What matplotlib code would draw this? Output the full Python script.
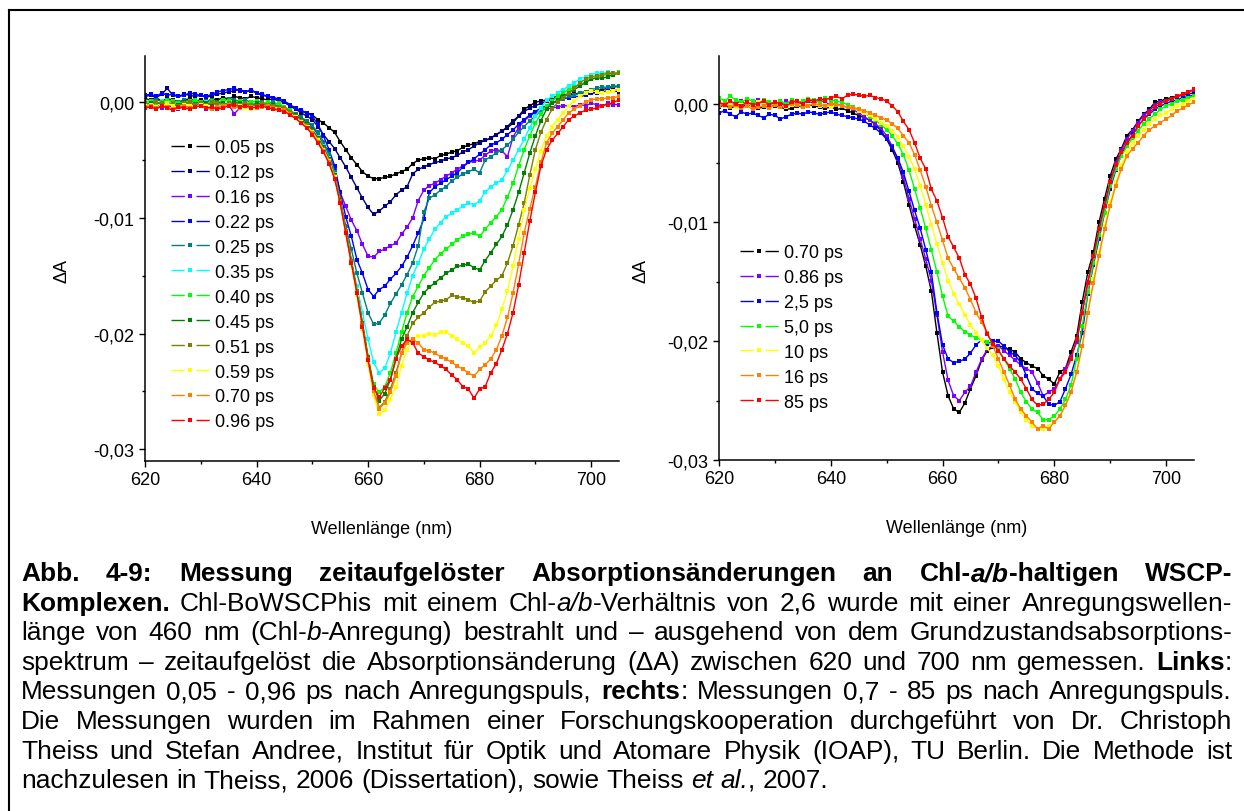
import re
import numpy as np
import matplotlib
matplotlib.use("Agg")
import matplotlib.pyplot as plt
from matplotlib.lines import Line2D
from matplotlib.ticker import FixedLocator, FuncFormatter

plt.rcParams['font.family'] = ['Liberation Sans', 'DejaVu Sans']

# wavelength grid of the spectra (nm)
wavelength = np.arange(620, 706)

# ---- left panel: delta A in units of 1e-3, 620..705 nm ----
d005 = [0.3,0.2,0.4,0.1,0.3,0.2,0.0,0.2,0.3,0.1,0.2,0.0,0.3,0.2,0.4,0.3,0.5,0.4,0.3,0.5,0.4,0.3,0.2,0.3,0.1,
        0.0,-0.3,-0.6,-0.8,-0.9,-1.1,-1.5,-1.8,-2.2,-2.6,
        -3.4,-4.1,-4.8,-5.4,-6.0,-6.4,-6.6,-6.6,-6.5,-6.4,
        -6.2,-6.0,-5.8,-5.3,-5.0,-4.9,-4.8,-4.9,-4.6,-4.5,
        -4.3,-4.2,-3.9,-3.7,-3.6,-3.4,-3.3,-3.1,-2.8,-2.5,
        -2.2,-1.8,-1.2,-0.6,-0.3,0.0,0.1,0.2,0.4,0.5,
        0.6,0.7,0.7,0.8,0.9,1.0,1.0,1.1,1.2,1.3,
        1.4]
d012 = [0.5,0.6,0.4,0.7,1.2,0.6,0.5,0.7,0.6,0.5,0.6,0.4,0.6,0.7,0.8,0.9,1.0,1.1,0.9,1.0,0.8,0.6,0.5,0.4,0.2,
        0.0,-0.3,-0.6,-0.9,-1.2,-1.5,-2.1,-2.8,-3.4,-4.0,
        -4.8,-5.6,-6.5,-7.4,-8.3,-9.1,-9.7,-9.4,-9.0,-8.6,
        -8.0,-7.6,-7.3,-6.2,-5.8,-5.6,-5.4,-5.2,-5.1,-4.9,
        -4.8,-4.6,-4.3,-4.1,-3.8,-3.5,-3.3,-3.1,-2.8,-2.5,
        -2.1,-1.6,-1.2,-0.8,-0.5,-0.3,-0.1,0.1,0.2,0.4,
        0.5,0.7,0.7,0.8,0.8,0.8,0.9,0.9,0.9,1.0,
        0.9]
d016 = [-0.3,-0.4,-0.2,-0.5,-0.3,-0.4,-0.6,-0.3,-0.5,-0.4,-0.2,-0.6,-0.4,-0.5,-0.3,-0.2,-1.0,-0.5,-0.3,-0.2,-0.1,-0.2,-0.3,-0.2,-0.4,
        -0.5,-0.8,-1.1,-1.4,-1.7,-2.1,-2.8,-3.6,-4.5,-5.8,
        -7.8,-9.0,-10.2,-11.1,-12.3,-13.3,-13.4,-12.9,-12.7,-12.4,
        -12.2,-11.4,-10.8,-10.0,-8.5,-7.6,-7.2,-7.0,-6.7,-6.4,
        -6.1,-5.8,-5.5,-5.2,-5.1,-5.0,-4.6,-4.2,-4.1,-4.2,
        -4.7,-3.0,-2.2,-1.6,-1.2,-0.9,-0.7,-0.6,-0.5,-0.4,
        -0.3,-0.3,-0.4,-0.2,-0.3,-0.1,-0.2,-0.3,-0.1,-0.2,
        -0.2]
d022 = [0.6,0.7,0.5,0.8,0.6,0.7,0.5,0.6,0.8,0.7,0.6,0.5,0.7,0.9,1.0,1.1,1.2,1.0,0.9,1.1,0.8,0.7,0.5,0.4,0.3,
        0.1,-0.2,-0.5,-0.7,-0.9,-1.2,-1.9,-2.9,-4.1,-5.5,
        -7.8,-9.9,-11.6,-13.6,-14.8,-16.2,-16.8,-16.2,-15.9,-15.3,
        -14.8,-14.2,-13.4,-12.4,-11.3,-10.1,-7.8,-7.3,-7.0,-6.7,
        -6.4,-6.1,-5.6,-5.2,-4.9,-4.5,-4.1,-3.7,-3.5,-3.2,
        -2.8,-2.4,-1.9,-1.5,-1.1,-0.8,-0.5,-0.3,-0.1,0.1,
        0.3,0.4,0.5,0.5,0.6,0.8,0.8,0.9,1.0,1.0,
        1.1]
d025 = [0.1,0.0,0.2,0.1,-0.1,0.1,0.0,0.2,0.1,0.0,-0.1,0.1,0.2,0.0,0.1,0.3,0.2,0.1,0.2,0.0,0.1,0.0,-0.1,0.0,-0.2,
        -0.4,-0.7,-1.0,-1.3,-1.6,-2.0,-2.6,-3.4,-4.5,-6.0,
        -8.4,-10.7,-12.7,-14.8,-16.5,-18.2,-19.2,-19.1,-18.4,-17.4,
        -16.6,-15.8,-14.9,-13.9,-12.4,-9.5,-8.3,-8.0,-7.6,-7.3,
        -6.8,-6.5,-6.2,-6.0,-5.8,-6.1,-5.0,-4.7,-4.4,-4.1,
        -3.7,-3.2,-2.6,-2.1,-1.6,-1.2,-0.7,-0.3,-0.1,0.1,
        0.3,0.5,0.6,0.8,0.9,1.1,1.2,1.3,1.3,1.4,
        1.4]
d035 = [-0.1,0.0,-0.2,0.1,-0.1,0.0,-0.3,-0.1,0.0,-0.2,-0.1,0.0,-0.1,-0.3,-0.2,0.0,-0.1,-0.2,-0.3,-0.1,-0.2,-0.4,-0.3,-0.2,-0.3,
        -0.5,-0.8,-1.1,-1.5,-1.9,-2.4,-3.0,-3.8,-4.8,-6.2,
        -8.6,-11.1,-13.6,-15.9,-18.2,-20.5,-22.5,-23.4,-23.0,-21.7,
        -19.9,-18.2,-16.5,-15.0,-13.9,-12.7,-11.8,-11.0,-10.4,-9.9,
        -9.6,-9.3,-9.0,-8.7,-8.9,-8.5,-7.8,-7.3,-7.0,-6.7,
        -5.9,-5.0,-4.1,-3.2,-2.2,-1.2,-0.5,0.2,0.5,0.8,
        1.1,1.4,1.7,2.0,2.2,2.4,2.5,2.5,2.6,2.5,
        2.5]
d040 = [0.0,0.1,-0.1,0.0,0.2,0.1,-0.1,0.0,0.1,0.2,0.0,-0.1,0.1,0.0,0.2,0.1,0.0,0.1,-0.1,0.0,0.1,-0.1,0.0,-0.2,-0.1,
        -0.4,-0.7,-1.1,-1.5,-1.9,-2.4,-3.1,-3.9,-4.9,-6.3,
        -8.5,-11.2,-13.8,-16.4,-19.2,-22.0,-24.4,-25.1,-24.6,-23.4,
        -21.7,-19.9,-18.2,-16.8,-15.9,-15.0,-14.3,-13.6,-13.1,-12.7,
        -12.3,-11.9,-11.6,-11.4,-11.3,-11.6,-11.0,-10.4,-9.9,-9.3,
        -8.2,-7.0,-5.5,-4.1,-2.9,-1.8,-1.0,-0.3,0.1,0.5,
        0.8,1.1,1.3,1.5,1.8,2.0,2.2,2.3,2.4,2.5,
        2.6]
d045 = [-0.2,-0.1,0.0,-0.2,-0.1,-0.3,-0.2,0.0,-0.1,-0.2,-0.3,-0.1,-0.2,0.0,-0.1,-0.2,0.0,-0.1,-0.2,-0.3,-0.1,-0.2,-0.3,-0.2,-0.4,
        -0.5,-0.8,-1.1,-1.5,-1.9,-2.4,-3.1,-3.9,-4.9,-6.3,
        -8.4,-11.1,-13.7,-16.3,-19.1,-22.0,-24.6,-25.8,-25.2,-24.0,
        -22.2,-20.5,-19.4,-18.2,-17.3,-16.5,-16.0,-15.6,-15.2,-14.8,
        -14.5,-14.2,-14.1,-14.0,-14.3,-14.5,-13.7,-13.0,-12.3,-11.6,
        -10.6,-9.3,-7.8,-6.1,-4.4,-2.9,-1.6,-0.6,-0.1,0.2,
        0.5,0.8,1.1,1.4,1.7,2.0,2.1,2.1,2.2,2.4,
        2.5]
d051 = [-0.1,-0.2,0.0,-0.1,-0.2,-0.1,-0.3,-0.1,0.0,-0.2,-0.1,-0.2,0.0,-0.1,-0.2,-0.1,-0.3,-0.2,-0.1,-0.2,-0.3,-0.1,-0.2,-0.3,-0.4,
        -0.5,-0.8,-1.2,-1.6,-2.0,-2.5,-3.2,-4.0,-5.0,-6.4,
        -8.5,-11.1,-13.7,-16.3,-19.2,-22.2,-24.9,-26.4,-25.9,-24.8,
        -23.4,-21.7,-20.2,-19.1,-18.6,-18.2,-17.7,-17.3,-17.2,-17.1,
        -16.7,-16.8,-16.9,-17.1,-17.3,-17.2,-16.4,-15.9,-15.4,-15.0,
        -13.9,-12.4,-10.6,-8.7,-6.3,-4.1,-2.6,-1.5,-0.6,0.0,
        0.4,0.8,1.2,1.7,2.0,2.2,2.3,2.4,2.5,2.5,
        2.5]
d059 = [-0.3,-0.2,-0.4,-0.3,-0.1,-0.3,-0.5,-0.2,-0.3,-0.4,-0.2,-0.3,-0.5,-0.4,-0.3,-0.2,-0.4,-0.3,-0.5,-0.6,-0.4,-0.3,-0.4,-0.5,-0.6,
        -0.7,-1.0,-1.3,-1.7,-2.1,-2.6,-3.3,-4.1,-5.1,-6.5,
        -8.7,-11.3,-14.0,-16.7,-19.6,-22.6,-25.3,-27.0,-26.6,-25.7,
        -24.6,-22.8,-21.4,-20.5,-20.2,-20.2,-20.0,-20.1,-19.9,-19.9,
        -20.2,-20.5,-20.8,-21.1,-21.7,-21.2,-20.8,-20.2,-19.3,-17.9,
        -16.3,-14.2,-11.8,-9.3,-7.4,-5.8,-4.2,-2.9,-2.1,-1.5,
        -0.9,-0.3,0.1,0.5,0.8,1.0,0.9,0.8,0.9,1.0,
        1.1]
d070 = [-0.4,-0.3,-0.5,-0.3,-0.4,-0.6,-0.4,-0.3,-0.5,-0.4,-0.3,-0.5,-0.6,-0.4,-0.3,-0.2,-0.4,-0.5,-0.3,-0.4,-0.5,-0.4,-0.3,-0.5,-0.6,
        -0.7,-1.0,-1.4,-1.8,-2.2,-2.7,-3.4,-4.2,-5.2,-6.6,
        -8.7,-11.3,-13.9,-16.5,-19.4,-22.3,-25.0,-26.5,-26.0,-25.1,
        -23.7,-21.7,-20.8,-20.5,-20.8,-21.4,-21.5,-21.7,-22.0,-22.2,
        -22.5,-22.8,-23.1,-23.4,-23.7,-23.1,-22.7,-22.2,-21.4,-20.2,
        -18.6,-16.5,-14.0,-11.3,-9.2,-7.3,-5.2,-3.5,-2.7,-2.1,
        -1.5,-0.9,-0.6,-0.3,0.0,0.2,0.3,0.3,0.4,0.4,
        0.5]
d096 = [-0.5,-0.4,-0.6,-0.3,-0.5,-0.7,-0.4,-0.5,-0.6,-0.4,-0.3,-0.5,-0.4,-0.6,-0.5,-0.3,-0.2,-0.4,-0.3,-0.5,-0.4,-0.3,-0.5,-0.6,-0.7,
        -0.8,-1.1,-1.4,-1.8,-2.2,-2.8,-3.5,-4.3,-5.3,-6.6,
        -8.7,-11.3,-13.9,-16.5,-19.4,-22.3,-24.7,-25.5,-24.7,-24.0,
        -22.2,-21.1,-20.5,-20.8,-21.7,-22.0,-22.3,-22.5,-22.8,-23.1,
        -23.6,-24.0,-24.6,-24.8,-25.6,-24.8,-24.6,-23.4,-22.6,-21.4,
        -20.0,-18.2,-15.8,-13.0,-10.3,-7.8,-5.5,-4.1,-3.3,-2.7,
        -2.1,-1.5,-1.2,-0.9,-0.7,-0.6,-0.5,-0.3,-0.2,0.0,
        0.2]

left_series = [d005, d012, d016, d022, d025, d035, d040, d045, d051, d059, d070, d096]
left_labels = ["0.05 ps", "0.12 ps", "0.16 ps", "0.22 ps", "0.25 ps", "0.35 ps",
               "0.40 ps", "0.45 ps", "0.51 ps", "0.59 ps", "0.70 ps", "0.96 ps"]
left_colors = ["#000000", "#000080", "#8000ff", "#0000ff", "#008080", "#00ffff",
               "#00ff00", "#008000", "#808000", "#ffff00", "#ff8000", "#ff0000"]

# ---- right panel ----
r070 = [-0.3,-0.1,-0.4,-0.2,-0.3,-0.1,-0.2,-0.4,-0.3,-0.1,-0.2,-0.3,-0.5,-0.4,-0.2,-0.3,-0.1,-0.2,-0.3,-0.4,-0.3,-0.5,-0.4,-0.6,-0.8,
        -1.0,-1.2,-1.4,-1.8,-2.3,-3.0,-3.9,-5.0,-6.6,-8.5,
        -10.3,-11.9,-13.7,-15.8,-19.3,-22.6,-24.6,-25.7,-26.0,-25.2,
        -24.0,-22.9,-21.6,-20.8,-20.5,-20.4,-20.5,-20.7,-20.9,-21.5,
        -21.8,-22.1,-22.3,-22.9,-23.2,-23.6,-22.6,-22.3,-20.9,-19.6,
        -16.7,-14.2,-12.5,-10.0,-8.0,-6.1,-4.7,-3.8,-2.7,-2.2,
        -1.5,-0.9,-0.5,0.1,0.2,0.4,0.5,0.6,0.7,0.8,
        0.9]
r086 = [-0.2,0.1,-0.1,0.0,0.2,-0.1,0.1,0.3,-0.2,0.0,0.1,-0.1,0.2,0.0,-0.1,0.1,0.2,0.0,0.3,0.1,-0.1,0.0,-0.2,-0.3,-0.5,
        -0.8,-1.1,-1.4,-1.7,-2.1,-2.7,-3.6,-4.7,-6.2,-8.0,
        -9.7,-11.4,-13.1,-14.9,-17.8,-20.9,-23.3,-24.6,-25.0,-24.3,
        -23.8,-22.6,-21.5,-20.7,-20.4,-20.4,-20.8,-21.2,-21.6,-22.0,
        -22.3,-22.6,-23.5,-24.6,-24.3,-24.0,-23.2,-22.3,-21.3,-20.1,
        -17.6,-15.0,-12.9,-10.6,-8.5,-6.6,-5.0,-3.9,-3.0,-2.3,
        -1.6,-1.0,-0.6,-0.1,0.1,0.2,0.4,0.6,0.8,1.0,
        1.1]
r25 = [-0.8,-0.6,-0.9,-1.1,-0.7,-0.9,-0.8,-1.0,-1.2,-0.9,-1.0,-1.3,-1.1,-0.9,-0.8,-0.9,-0.7,-0.8,-0.9,-0.8,-0.7,-0.9,-1.0,-1.1,-1.2,
       -1.3,-1.5,-1.8,-2.1,-2.5,-3.0,-3.7,-4.6,-5.8,-7.4,
       -9.0,-10.5,-12.3,-14.2,-17.6,-20.3,-21.5,-21.8,-21.7,-21.5,
       -21.0,-20.3,-19.9,-20.2,-20.0,-20.0,-20.4,-20.9,-21.2,-21.8,
       -22.9,-24.0,-24.4,-24.6,-25.3,-25.4,-25.1,-24.0,-22.8,-21.2,
       -19.3,-16.0,-13.6,-11.4,-9.2,-7.2,-5.6,-4.3,-3.4,-2.6,
       -1.9,-1.3,-0.9,-0.5,-0.2,0.0,0.2,0.3,0.5,0.6,
       0.7]
r50 = [0.5,0.2,0.6,0.3,0.1,0.4,0.2,0.0,0.3,0.1,-0.1,0.2,0.0,0.3,0.1,0.2,0.4,0.3,0.1,0.5,0.3,0.2,0.1,-0.1,-0.3,
       -0.5,-0.8,-1.1,-1.4,-1.8,-2.2,-2.7,-3.4,-4.3,-5.6,
       -7.2,-8.8,-10.5,-12.3,-14.2,-16.2,-17.9,-18.3,-18.8,-19.2,
       -19.5,-19.7,-19.9,-20.1,-20.4,-20.7,-21.5,-22.3,-23.2,-24.3,
       -25.1,-25.7,-26.0,-26.6,-26.6,-26.3,-25.7,-24.9,-23.7,-21.5,
       -18.7,-15.9,-13.4,-11.1,-9.2,-6.9,-5.5,-4.4,-3.6,-2.9,
       -2.3,-1.7,-1.3,-0.9,-0.5,-0.2,0.0,0.2,0.3,0.5,
       0.6]
r10 = [0.1,-0.2,0.0,-0.3,-0.1,0.0,-0.2,0.1,-0.1,-0.2,0.0,-0.1,-0.3,-0.1,0.0,-0.2,-0.1,0.0,-0.2,-0.1,-0.3,-0.1,-0.2,-0.3,-0.4,
       -0.6,-0.8,-1.0,-1.3,-1.6,-1.9,-2.3,-2.8,-3.6,-4.5,
       -5.5,-6.9,-8.5,-10.2,-11.8,-13.4,-14.9,-16.0,-16.9,-17.8,
       -18.6,-19.3,-19.9,-20.6,-21.2,-22.1,-23.2,-24.3,-25.1,-26.0,
       -26.6,-27.1,-27.4,-27.4,-27.1,-26.8,-26.3,-25.4,-24.3,-22.6,
       -20.4,-17.6,-14.8,-12.5,-10.3,-8.3,-6.6,-5.2,-4.1,-3.3,
       -2.7,-2.2,-1.7,-1.3,-1.0,-0.8,-0.5,-0.2,0.0,0.2,
       0.4]
r16 = [-0.2,0.0,-0.3,-0.1,-0.4,-0.2,-0.5,-0.3,-0.2,-0.4,-0.1,-0.3,-0.2,0.0,-0.1,-0.3,-0.2,0.0,-0.1,-0.2,0.0,-0.1,-0.2,-0.3,-0.4,
       -0.5,-0.6,-0.8,-1.0,-1.2,-1.4,-1.7,-2.1,-2.7,-3.3,
       -4.3,-5.6,-7.0,-8.6,-10.0,-11.5,-13.0,-13.9,-14.7,-15.5,
       -16.5,-17.6,-18.4,-19.3,-20.4,-21.5,-22.6,-23.7,-24.9,-25.7,
       -26.3,-26.8,-27.4,-27.1,-27.4,-26.8,-26.3,-25.4,-24.3,-22.6,
       -20.4,-17.6,-15.1,-12.8,-10.6,-8.6,-6.9,-5.5,-4.4,-3.8,
       -3.3,-2.7,-2.2,-1.9,-1.6,-1.3,-1.0,-0.6,-0.4,-0.1,
       0.1]
r85 = [0.1,-0.1,0.2,0.0,-0.2,0.1,-0.1,0.0,0.2,-0.1,0.1,0.0,-0.2,0.1,0.2,0.0,0.3,0.2,0.4,0.3,0.5,0.6,0.4,0.7,0.8,
       0.7,0.6,0.7,0.5,0.4,0.2,-0.2,-0.7,-1.5,-2.2,
       -3.3,-4.6,-5.5,-7.2,-8.2,-9.6,-11.2,-12.1,-13.0,-14.4,
       -15.2,-16.4,-18.0,-19.4,-20.2,-20.8,-21.5,-22.1,-22.6,-23.2,
       -24.0,-24.9,-25.4,-25.3,-24.9,-24.3,-23.2,-22.6,-21.5,-19.8,
       -17.6,-15.1,-12.8,-10.6,-8.6,-6.6,-5.2,-4.1,-3.3,-2.7,
       -1.9,-1.3,-0.8,-0.3,0.0,0.2,0.4,0.6,0.8,1.0,
       1.2]

right_series = [r070, r086, r25, r50, r10, r16, r85]
right_labels = ["0.70 ps", "0.86 ps", "2,5 ps", "5,0 ps", "10 ps", "16 ps", "85 ps"]
right_colors = ["#000000", "#8000ff", "#0000ff", "#00ff00", "#ffff00", "#ff8000", "#ff0000"]

caption = [
    "**Abb. 4-9: Messung zeitaufgelöster Absorptionsänderungen an Chl-*a/b*-haltigen WSCP-**",
    "**Komplexen.** Chl-BoWSCPhis mit einem Chl-*a/b*-Verhältnis von 2,6 wurde mit einer Anregungswellen-",
    "länge von 460 nm (Chl-*b*-Anregung) bestrahlt und – ausgehend von dem Grundzustandsabsorptions-",
    "spektrum – zeitaufgelöst die Absorptionsänderung (ΔA) zwischen 620 und 700 nm gemessen. **Links**:",
    "Messungen 0,05 - 0,96 ps nach Anregungspuls, **rechts**: Messungen 0,7 - 85 ps nach Anregungspuls.",
    "Die Messungen wurden im Rahmen einer Forschungskooperation durchgeführt von Dr. Christoph",
    "Theiss und Stefan Andree, Institut für Optik und Atomare Physik (IOAP), TU Berlin. Die Methode ist",
    "nachzulesen in Theiss, 2006 (Dissertation), sowie Theiss *et al.*, 2007.",
]

W, H = 1244, 812
fig = plt.figure(figsize=(W / 100, H / 100), dpi=100)


def px_axes(x0, y0, x1, y1):
    return fig.add_axes([x0 / W, 1 - y1 / H, (x1 - x0) / W, (y1 - y0) / H])


def comma(v, pos):
    if abs(v) < 1e-12:
        v = 0.0
    return f"{v:.2f}".replace(".", ",")


def draw_panel(ax, series, labels, colors, ylim, ylab_x, leg_xy):
    for vals, col in zip(series, colors):
        ax.plot(wavelength, np.array(vals) * 1e-3, color=col, lw=1.0,
                marker="s", ms=2.6, mew=0)
    ax.set_xlim(620, 705)
    ax.set_ylim(*ylim)
    for s in ("top", "right"):
        ax.spines[s].set_visible(False)
    for s in ("left", "bottom"):
        ax.spines[s].set_linewidth(1.1)
    ax.xaxis.set_major_locator(FixedLocator([620, 640, 660, 680, 700]))
    ax.xaxis.set_minor_locator(FixedLocator([630, 650, 670, 690]))
    ax.yaxis.set_major_locator(FixedLocator([-0.03, -0.02, -0.01, 0.0]))
    ax.yaxis.set_minor_locator(FixedLocator([-0.025, -0.015, -0.005]))
    ax.yaxis.set_major_formatter(FuncFormatter(comma))
    ax.tick_params(which="major", direction="out", length=4.5, width=1, labelsize=13, pad=3)
    ax.tick_params(which="minor", direction="out", length=2.5, width=1)
    ax.set_xlabel("Wellenlänge (nm)", fontsize=13, va="center")
    ax.xaxis.set_label_coords(0.5, -0.168)
    ax.set_ylabel("ΔA", fontsize=13, va="center")
    ax.yaxis.set_label_coords(ylab_x, 0.47)

    handles = [Line2D([], [], color=c, lw=1, ls=(0, (9.6, 8.4)), marker="s", ms=2.4, mew=0)
               for c in colors]
    ax.legend(handles, labels, loc="upper left",
              bbox_to_anchor=(leg_xy[0] / W, 1 - leg_xy[1] / H), bbox_transform=fig.transFigure,
              frameon=False, fontsize=13, handlelength=2.15, handletextpad=0.28,
              labelspacing=0.44, borderpad=0, borderaxespad=0, numpoints=1)


ax1 = px_axes(145, 57, 619, 461.7)
draw_panel(ax1, left_series, left_labels, left_colors, (-0.031, 0.004), -0.175, (171, 140))
ax2 = px_axes(719, 57, 1194, 461)
draw_panel(ax2, right_series, right_labels, right_colors, (-0.030, 0.004), -0.164, (740, 245))

# frame lines (top and left) of the figure box
fig.add_artist(Line2D([9 / W, 1], [1 - 11 / H] * 2, color="black", lw=1.5, transform=fig.transFigure))
fig.add_artist(Line2D([9 / W, 9 / W], [1 - 11 / H, 0], color="black", lw=1.5, transform=fig.transFigure))

# ---- justified caption ----
cap_size = 18.9
cap_left, cap_right = 21, 1232
cap_y0, cap_dy = 581, 29.6

renderer = fig.canvas.get_renderer()


def parse(line):
    runs, bold, ital = [], False, False
    for part in re.split(r"(\*\*|\*)", line):
        if part == "**":
            bold = not bold
        elif part == "*":
            ital = not ital
        elif part:
            runs.append((part, bold, ital))
    words = [[]]
    for text, b, i in runs:
        for k, p in enumerate(text.split(" ")):
            if k > 0:
                words.append([])
            if p:
                words[-1].append((p, b, i))
    return [w for w in words if w]


def text_w(s, b=False, i=False):
    t = fig.text(0, 0, s, fontsize=cap_size, fontweight="bold" if b else "normal",
                 fontstyle="italic" if i else "normal")
    w = t.get_window_extent(renderer=renderer).width
    t.remove()
    return w


bar_w = {}
for b in (False, True):
    for i in (False, True):
        bar_w[(b, i)] = text_w("|", b, i)


def run_w(s, b, i):
    return text_w(s + "|", b, i) - bar_w[(b, i)]


space_w = text_w("n n") - text_w("nn")

for n, line in enumerate(caption):
    words = parse(line)
    widths = [[run_w(s, b, i) for s, b, i in w] for w in words]
    totals = [sum(ws) for ws in widths]
    justify = n < len(caption) - 1
    gap = (cap_right - cap_left - sum(totals)) / (len(words) - 1) if justify else space_w
    x = cap_left
    y = 1 - (cap_y0 + n * cap_dy) / H
    for w, ws, tot in zip(words, widths, totals):
        xr = x
        for (s, b, i), rw in zip(w, ws):
            fig.text(xr / W, y, s, fontsize=cap_size, va="baseline", ha="left",
                     fontweight="bold" if b else "normal",
                     fontstyle="italic" if i else "normal")
            xr += rw
        x += tot + gap

fig.savefig("out.png", dpi=100)
